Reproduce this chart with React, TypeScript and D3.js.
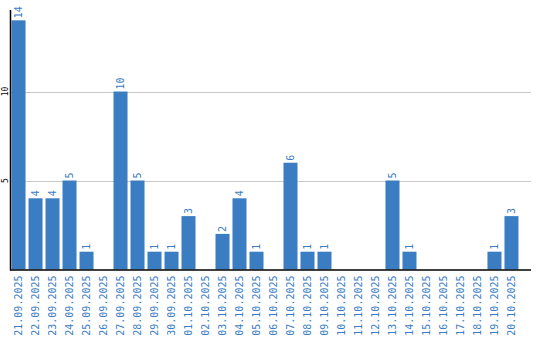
import React from "react";
import * as d3 from "d3";

const dates = [
  "21.09.2025","22.09.2025","23.09.2025","24.09.2025","25.09.2025","26.09.2025",
  "27.09.2025","28.09.2025","29.09.2025","30.09.2025","01.10.2025","02.10.2025",
  "03.10.2025","04.10.2025","05.10.2025","06.10.2025","07.10.2025","08.10.2025",
  "09.10.2025","10.10.2025","11.10.2025","12.10.2025","13.10.2025","14.10.2025",
  "15.10.2025","16.10.2025","17.10.2025","18.10.2025","19.10.2025","20.10.2025",
];
const counts = [14,4,4,5,1,0,10,5,1,1,3,0,2,4,1,0,6,1,1,0,0,0,5,1,0,0,0,0,1,3];
const yTicks = [5, 10];

const W = 540, H = 340;
const left = 10, right = 520, axisRight = 531, top = 10, bottom = 269.5;
const blue = "#3b7dc3";

export default function App() {
  const x = d3.scaleBand<string>().domain(dates).range([left, right]).paddingInner(0.176).paddingOuter(0.09);
  const y = d3.scaleLinear().domain([0, 14.58]).range([bottom, top]);
  return (
    <svg width={W} height={H} style={{ position: "absolute", left: 0, top: 0 }}>
      {yTicks.map((t) => (
        <g key={t}>
          <line x1={left} x2={axisRight} y1={Math.round(y(t)) + 0.5} y2={Math.round(y(t)) + 0.5} stroke="#c8c8c8" />
          <text transform={`translate(5,${y(t)}) rotate(-90)`} textAnchor="middle" dy="0.35em"
            fontFamily="DejaVu Sans Mono" fontSize={8} fill="#000">{t}</text>
        </g>
      ))}
      {dates.map((d, i) => {
        const v = counts[i];
        const cx = (x(d) as number) + x.bandwidth() / 2;
        return (
          <g key={d}>
            {v > 0 && (
              <>
                <rect x={x(d)} y={y(v)} width={x.bandwidth()} height={bottom - y(v)} fill={blue} />
                <text transform={`translate(${cx},${y(v) - 2}) rotate(-90)`} textAnchor="start" dy="0.35em"
                  fontFamily="DejaVu Sans Mono" fontSize={10} fill={blue}>{v}</text>
              </>
            )}
            <text transform={`translate(${cx},${bottom + 6}) rotate(-90)`} textAnchor="end" dy="0.35em"
              fontFamily="DejaVu Sans Mono" fontSize={10} fill={blue}>{d}</text>
          </g>
        );
      })}
      <line x1={left + 0.5} x2={left + 0.5} y1={top} y2={bottom + 1} stroke="#000" strokeWidth={1.5} />
      <line x1={left} x2={axisRight} y1={bottom + 0.5} y2={bottom + 0.5} stroke="#000" strokeWidth={1.5} />
    </svg>
  );
}
